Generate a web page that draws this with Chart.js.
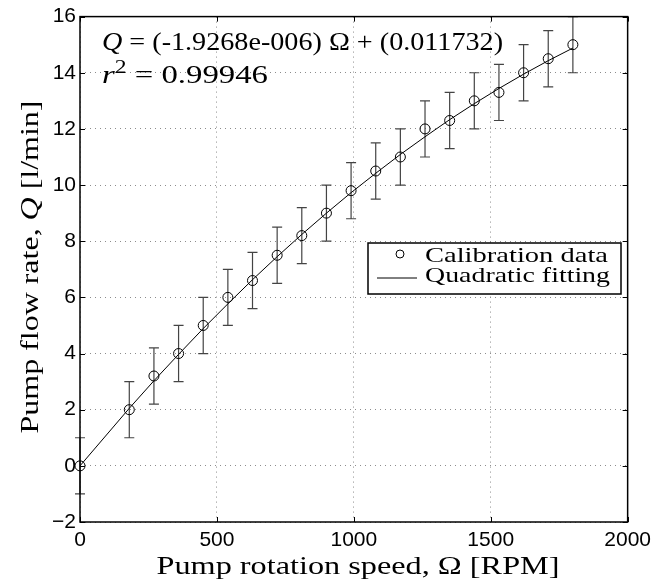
<!DOCTYPE html>
<html>
<head>
  <title>Pump calibration</title>
  <script src="https://cdn.jsdelivr.net/npm/chart.js"></script>
  <style>
    html, body { margin: 0; padding: 0; background: #fff; }
    #box { width: 657px; height: 586px; }
  </style>
</head>
<body>
  <div id="box"><canvas id="pumpChart"></canvas></div>

  <script>
    const rpm = [0, 180, 270, 360, 450, 540, 630, 720, 810, 900, 990, 1080, 1170, 1260, 1350, 1440, 1530, 1620, 1710, 1800];
    const flow = [0, 2, 3.2, 4, 5, 6, 6.6, 7.5, 8.2, 9, 9.8, 10.5, 11, 12, 12.3, 13, 13.3, 14, 14.5, 15];
    const flowErr = [1, 1, 1, 1, 1, 1, 1, 1, 1, 1, 1, 1, 1, 1, 1, 1, 1, 1, 1, 1];
    // fitted curve values at the same speeds
    const fitFlow = [0, 2.05, 3.03, 3.97, 4.89, 5.77, 6.63, 7.45, 8.24, 9.0, 9.73, 10.42, 11.09, 11.72, 12.33, 12.9, 13.44, 13.95, 14.43, 14.88];

    const xTicks = [0, 500, 1000, 1500, 2000];
    const xTickLabels = ['0', '500', '1000', '1500', '2000'];
    const yTicks = [-2, 0, 2, 4, 6, 8, 10, 12, 14, 16];
    const yTickLabels = ['\u22122', '0', '2', '4', '6', '8', '10', '12', '14', '16'];

    const fitText = [{ t: 'Q', it: true }, { t: ' = (-1.9268e-006) \u03A9 + (0.011732)' }];
    const r2Text = [{ t: 'r', it: true }, { t: '2', sup: true }, { t: ' = 0.99946' }];
    const xTitle = [{ t: 'Pump rotation speed, \u03A9 [RPM]' }];
    const yTitle = [{ t: 'Pump flow rate, ' }, { t: 'Q', it: true }, { t: ' [l/min]' }];

    // draw a line of mixed roman / italic / superscript text, stretched to a width
    function drawRich(ctx, parts, x, y, size, width, align) {
      const fontOf = p => (p.it ? 'italic ' : '') + (p.sup ? Math.round(size * 0.7) : size) + 'px "Liberation Serif"';
      let w = 0;
      parts.forEach(p => { ctx.font = fontOf(p); p.w = ctx.measureText(p.t).width; w += p.w; });
      const k = width ? width / w : 1;
      ctx.save();
      ctx.translate(x, y);
      ctx.scale(k, 1);
      ctx.fillStyle = '#000';
      ctx.textBaseline = 'alphabetic';
      ctx.textAlign = 'left';
      let cx = align === 'center' ? -w / 2 : 0;
      parts.forEach(p => {
        ctx.font = fontOf(p);
        ctx.fillText(p.t, cx, p.sup ? -size * 0.42 : 0);
        cx += p.w;
      });
      ctx.restore();
    }

    const decor = {
      id: 'decor',
      beforeDatasetsDraw(chart) {
        // error bars
        const { ctx, scales: { x, y } } = chart;
        ctx.save();
        ctx.strokeStyle = '#444';
        ctx.lineWidth = 1.2;
        rpm.forEach((r, i) => {
          const px = x.getPixelForValue(r);
          const top = y.getPixelForValue(flow[i] + flowErr[i]);
          const bot = y.getPixelForValue(flow[i] - flowErr[i]);
          ctx.beginPath();
          ctx.moveTo(px, top); ctx.lineTo(px, bot);
          ctx.moveTo(px - 5, top); ctx.lineTo(px + 5, top);
          ctx.moveTo(px - 5, bot); ctx.lineTo(px + 5, bot);
          ctx.stroke();
        });
        ctx.restore();
      },
      afterDraw(chart) {
        const { ctx, chartArea: a, scales: { x, y } } = chart;
        ctx.save();
        // frame and inward ticks
        ctx.strokeStyle = '#000';
        ctx.lineWidth = 1.5;
        ctx.strokeRect(a.left, a.top, a.right - a.left, a.bottom - a.top);
        ctx.lineWidth = 1;
        ctx.beginPath();
        xTicks.forEach(v => {
          const px = Math.round(x.getPixelForValue(v)) + 0.5;
          ctx.moveTo(px, a.bottom); ctx.lineTo(px, a.bottom - 5);
          ctx.moveTo(px, a.top); ctx.lineTo(px, a.top + 5);
        });
        yTicks.forEach(v => {
          const py = Math.round(y.getPixelForValue(v)) + 0.5;
          ctx.moveTo(a.left, py); ctx.lineTo(a.left + 5, py);
          ctx.moveTo(a.right, py); ctx.lineTo(a.right - 5, py);
        });
        ctx.stroke();

        // equation text
        drawRich(ctx, fitText, 102, 50, 25, 401, 'left');
        drawRich(ctx, r2Text, 102, 83, 25, 166, 'left');

        // axis titles
        drawRich(ctx, xTitle, 358, 574, 25, 403, 'center');
        ctx.save();
        ctx.translate(38, 267);
        ctx.rotate(-Math.PI / 2);
        drawRich(ctx, yTitle, 0, 0, 25, 333, 'center');
        ctx.restore();

        // legend
        ctx.fillStyle = '#fff';
        ctx.fillRect(368, 243, 253, 51);
        ctx.strokeStyle = '#000';
        ctx.lineWidth = 1.5;
        ctx.strokeRect(368, 243, 253, 51);
        ctx.lineWidth = 1;
        ctx.beginPath();
        ctx.arc(400, 254, 4, 0, Math.PI * 2);
        ctx.stroke();
        ctx.beginPath();
        ctx.moveTo(377, 278); ctx.lineTo(417, 278);
        ctx.stroke();
        const ds = chart.data.datasets;
        drawRich(ctx, [{ t: ds[0].label }], 425, 262, 22, 183, 'left');
        drawRich(ctx, [{ t: ds[1].label }], 425, 282, 22, 185, 'left');
        ctx.restore();
      }
    };

    const gridStyle = {
      color: '#8c8c8c',
      lineWidth: 1,
      drawTicks: false
    };

    new Chart(document.getElementById('pumpChart'), {
      type: 'scatter',
      data: {
        datasets: [
          {
            label: 'Calibration data',
            data: rpm.map((r, i) => ({ x: r, y: flow[i] })),
            showLine: false,
            pointStyle: 'circle',
            pointRadius: 5,
            pointBorderColor: '#000',
            pointBackgroundColor: 'rgba(0,0,0,0)',
            pointBorderWidth: 1,
            clip: false,
            order: 1
          },
          {
            label: 'Quadratic fitting',
            data: rpm.map((r, i) => ({ x: r, y: fitFlow[i] })),
            showLine: true,
            borderColor: '#000',
            borderWidth: 1,
            pointRadius: 0,
            tension: 0,
            order: 2
          }
        ]
      },
      options: {
        responsive: true,
        maintainAspectRatio: false,
        animation: false,
        layout: { padding: { top: 14, right: 27, left: 0, bottom: 0 } },
        plugins: {
          legend: { display: false },
          tooltip: { enabled: false }
        },
        scales: {
          x: {
            type: 'linear',
            min: 0,
            max: 2000,
            afterFit: s => { s.height = 64; },
            afterBuildTicks: s => { s.ticks = xTicks.map(v => ({ value: v })); },
            grid: gridStyle,
            border: { display: false, dash: [1, 4] },
            ticks: {
              padding: 6,
              color: '#000',
              font: { family: 'Liberation Sans', size: 21 },
              maxRotation: 0,
              callback: v => xTickLabels[xTicks.indexOf(v)]
            }
          },
          y: {
            type: 'linear',
            min: -2,
            max: 16,
            afterFit: s => { s.width = 80; },
            afterBuildTicks: s => { s.ticks = yTicks.map(v => ({ value: v })); },
            grid: gridStyle,
            border: { display: false, dash: [1, 4] },
            ticks: {
              padding: 4,
              color: '#000',
              font: { family: 'Liberation Sans', size: 21 },
              callback: v => yTickLabels[yTicks.indexOf(v)]
            }
          }
        }
      },
      plugins: [decor]
    });
  </script>
</body>
</html>
